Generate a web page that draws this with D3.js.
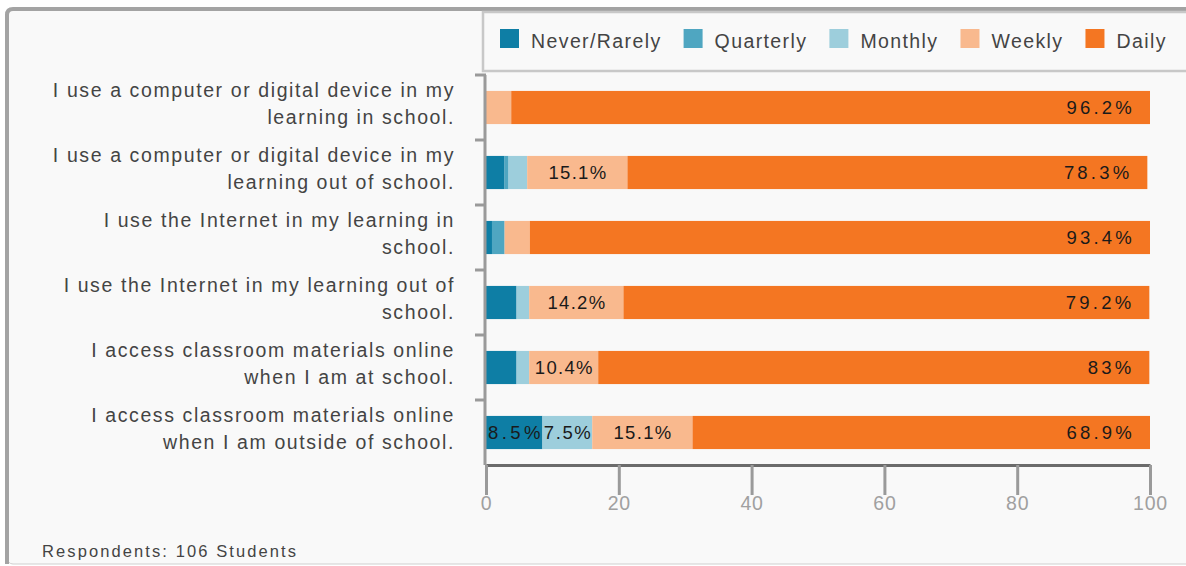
<!DOCTYPE html>
<html>
<head>
<meta charset="utf-8">
<script src="https://cdn.jsdelivr.net/npm/d3@7"></script>
<style>
  body { margin: 0; background: #fff; }
  text { font-family: "Liberation Sans", Arial, sans-serif; }
</style>
</head>
<body>
<svg id="chart" width="1186" height="566"></svg>
<script>
// Survey statements, each split onto its display lines
const questions = [
  ["I use a computer or digital device in my", "learning in school."],
  ["I use a computer or digital device in my", "learning out of school."],
  ["I use the Internet in my learning in", "school."],
  ["I use the Internet in my learning out of", "school."],
  ["I access classroom materials online", "when I am at school."],
  ["I access classroom materials online", "when I am outside of school."]
];

// Response frequency categories and their colours
const seriesNames = ["Never/Rarely", "Quarterly", "Monthly", "Weekly", "Daily"];
const seriesColors = ["#0e7ea5", "#4fa6c1", "#9dcedc", "#f9b98e", "#f47622"];
// Letter spacing used for the value labels of each series
const labelSpacing = [3.5, 1.3, 1.6, 1.3, 3.2];

// Percent of respondents per statement
const neverRarely = [0, 2.8, 0.9, 4.6, 4.6, 8.5];
const quarterly   = [0, 0.6, 1.9, 0, 0, 0];
const monthly     = [0, 2.8, 0, 1.9, 1.9, 7.5];
const weekly      = [3.8, 15.1, 3.8, 14.2, 10.4, 15.1];
const daily       = [96.2, 78.3, 93.4, 79.2, 83, 68.9];

const xTicks = [0, 20, 40, 60, 80, 100];
const footnote = "Respondents: 106 Students";

const seriesValues = [neverRarely, quarterly, monthly, weekly, daily];
const table = questions.map((q, i) => {
  const row = { key: i };
  seriesNames.forEach((s, j) => row[s] = seriesValues[j][i]);
  return row;
});

const svg = d3.select("#chart");

// Card frame
svg.append("rect")
  .attr("x", 7).attr("y", 9).attr("width", 1190).attr("height", 555).attr("rx", 6)
  .attr("fill", "#f9f9f9").attr("stroke", "#cfcfcf").attr("stroke-width", 1);
svg.append("path")
  .attr("d", "M7,564 L7,15 Q7,9 13,9 L1190,9")
  .attr("fill", "none").attr("stroke", "#a3a3a3").attr("stroke-width", 4);

// Legend box
svg.append("rect")
  .attr("x", 483).attr("y", 12).attr("width", 720).attr("height", 59)
  .attr("fill", "#f9f9f9").attr("stroke", "#c8c8c8").attr("stroke-width", 2.5);

const x = d3.scaleLinear().domain([0, 100]).range([486, 1150]);
const y = d3.scaleBand().domain(d3.range(questions.length)).range([75, 465]).paddingInner(0.49).paddingOuter(0.245);

const stacked = d3.stack().keys(seriesNames)(table);
const color = d3.scaleOrdinal().domain(seriesNames).range(seriesColors);
const fmt = v => (Math.round(v * 10) / 10) + "%";

// Bars
const layers = svg.append("g").selectAll("g").data(stacked).join("g")
  .attr("fill", d => color(d.key));
layers.selectAll("rect").data(d => d).join("rect")
  .attr("x", d => x(d[0]))
  .attr("y", (d, i) => y(i))
  .attr("width", d => x(d[1]) - x(d[0]))
  .attr("height", y.bandwidth());

// Value labels on the wider segments; the last series is pinned to the bar end
const labelG = svg.append("g");
stacked.forEach((layer, li) => {
  const last = li === stacked.length - 1;
  const ls = labelSpacing[li];
  layer.forEach((d, i) => {
    const v = d[1] - d[0];
    if (v < 5) return;
    labelG.append("text")
      .attr("x", last ? x(d[1]) - 15 : (x(d[0]) + x(d[1])) / 2 + ls / 2)
      .attr("y", y(i) + y.bandwidth() / 2 + 6.5)
      .attr("text-anchor", last ? "end" : "middle")
      .attr("font-size", 18.5).attr("letter-spacing", ls)
      .attr("fill", "#1a1a1a")
      .text(fmt(table[i][layer.key]));
  });
});

// Category axis: line plus separators between bands
const step = y.step();
const yAxis = svg.append("g").attr("stroke", "#9a9a9a").attr("stroke-width", 3);
yAxis.append("line").attr("x1", 485).attr("x2", 485).attr("y1", 75).attr("y2", 465);
d3.range(questions.length).forEach(i => {
  yAxis.append("line").attr("x1", 475).attr("x2", 486)
    .attr("y1", y(i) - step * 0.245).attr("y2", y(i) - step * 0.245);
});

// Category labels
const qLabels = svg.append("g").selectAll("text").data(questions).join("text")
  .attr("text-anchor", "end")
  .attr("font-size", 19.5).attr("letter-spacing", 1.6)
  .attr("fill", "#444");
qLabels.each(function(lines, i) {
  const cy = y(i) + y.bandwidth() / 2;
  d3.select(this).selectAll("tspan").data(lines).join("tspan")
    .attr("x", 455)
    .attr("y", (l, k) => cy - 11 + k * 27.7)
    .text(l => l);
});

// Value axis
const xAxis = svg.append("g").attr("transform", "translate(0,465)")
  .call(d3.axisBottom(x).tickValues(xTicks).tickSize(30).tickSizeOuter(0).tickFormat(d3.format("d")));
xAxis.select(".domain").attr("stroke", "#6b6b6b").attr("stroke-width", 3);
xAxis.selectAll(".tick line").attr("stroke", "#9a9a9a").attr("stroke-width", 3);
xAxis.selectAll(".tick text")
  .attr("fill", "#a0a0a0").attr("font-size", 19.5).attr("letter-spacing", 0.8)
  .attr("font-family", "Liberation Sans, Arial, sans-serif")
  .attr("y", 31).attr("dy", "0.71em");

// Legend
const legend = svg.append("g");
let lx = 500;
seriesNames.forEach((s, j) => {
  legend.append("rect").attr("x", lx).attr("y", 29).attr("width", 19).attr("height", 19)
    .attr("fill", seriesColors[j]);
  const t = legend.append("text").attr("x", lx + 31).attr("y", 48)
    .attr("font-size", 19.5).attr("letter-spacing", 1.4).attr("fill", "#444").text(s);
  lx += 31 + t.node().getComputedTextLength() + 22;
});

// Footnote
svg.append("text").attr("x", 42).attr("y", 557)
  .attr("font-size", 16.5).attr("letter-spacing", 2.1).attr("fill", "#444")
  .text(footnote);
</script>
</body>
</html>
